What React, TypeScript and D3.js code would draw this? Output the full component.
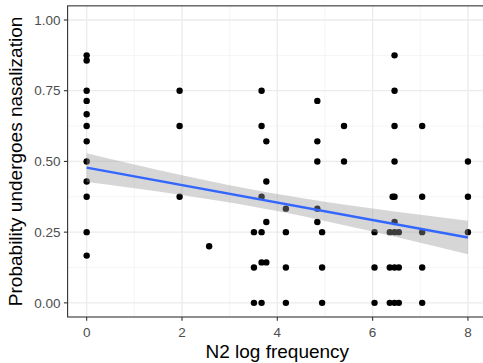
import React from "react";
import * as d3 from "d3";

// N2 log frequency of each item
const freq: number[] = [
  0, 0, 0, 0, 0, 0, 0, 0, 0, 0, 0, 0,
  1.95, 1.95, 1.95,
  2.57,
  3.51, 3.51, 3.51,
  3.67, 3.67, 3.67, 3.67, 3.67, 3.67,
  3.77, 3.77, 3.77, 3.77,
  4.18, 4.18, 4.18, 4.18,
  4.84, 4.84, 4.84, 4.84, 4.84,
  4.94, 4.94, 4.94,
  5.4, 5.4,
  6.04, 6.04, 6.04,
  6.36, 6.36, 6.36,
  6.42,
  6.46, 6.46, 6.46, 6.46, 6.46, 6.46, 6.46, 6.46, 6.46,
  6.55, 6.55, 6.55,
  7.04, 7.04, 7.04, 7.04, 7.04,
  8.0, 8.0, 8.0,
];
// Probability the item undergoes nasalization
const prob: number[] = [
  0.875, 0.857, 0.75, 0.714, 0.667, 0.625, 0.571, 0.5, 0.429, 0.375, 0.25, 0.167,
  0.75, 0.625, 0.375,
  0.2,
  0.25, 0.125, 0,
  0.75, 0.625, 0.375, 0.25, 0.143, 0,
  0.571, 0.429, 0.286, 0.143,
  0.333, 0.25, 0.125, 0,
  0.714, 0.571, 0.5, 0.333, 0.286,
  0.25, 0.125, 0,
  0.625, 0.5,
  0.25, 0.125, 0,
  0.25, 0.125, 0,
  0.375,
  0.875, 0.75, 0.625, 0.5, 0.375, 0.286, 0.25, 0.125, 0,
  0.25, 0.125, 0,
  0.625, 0.375, 0.25, 0.125, 0,
  0.5, 0.375, 0.25,
];

// fitted linear trend
const fitX = [0, 8];
const fitY = [0.478, 0.231];
// 95% confidence band
const bandX = [0, 1, 2, 3, 3.56, 4, 5, 6, 7, 8];
const bandLo = [0.4275, 0.4053, 0.3815, 0.3549, 0.3383, 0.3243, 0.2895, 0.2519, 0.2125, 0.172];
const bandHi = [0.5285, 0.4889, 0.4511, 0.4159, 0.3979, 0.3847, 0.3577, 0.3337, 0.3113, 0.29];

const xTicks = [0, 2, 4, 6, 8];
const xMinor = [1, 3, 5, 7];
const yTicks = [0, 0.25, 0.5, 0.75, 1];
const yMinor = [0.125, 0.375, 0.625, 0.875];
const xTitle = "N2 log frequency";
const yTitle = "Probability undergoes nasalization";

const W = 483;
const H = 363;
const left = 67.6;
const right = 487;
const top = 5.85;
const bottom = 317;

export default function App() {
  const x = d3.scaleLinear().domain([-0.4, 8.4]).range([left, right]);
  const y = d3.scaleLinear().domain([-0.05, 1.05]).range([bottom, top]);

  const band = bandX.map((g, i) => ({ g, lo: bandLo[i], hi: bandHi[i] }));
  const fit = fitX.map((g, i) => ({ g, v: fitY[i] }));
  const area = d3
    .area<any>()
    .curve(d3.curveMonotoneX)
    .x((d) => x(d.g))
    .y0((d) => y(d.lo))
    .y1((d) => y(d.hi));
  const line = d3
    .line<any>()
    .x((d) => x(d.g))
    .y((d) => y(d.v));

  const font = "'Liberation Sans', Arial, sans-serif";

  return (
    <svg
      width={W}
      height={H}
      style={{ position: "absolute", left: 0, top: 0, background: "#fff" }}
    >
      <defs>
        <clipPath id="panel">
          <rect x={left} y={top} width={right - left} height={bottom - top} />
        </clipPath>
      </defs>
      <rect x={left} y={top} width={right - left} height={bottom - top} fill="#fff" />
      <g clipPath="url(#panel)">
        {xMinor.map((t) => (
          <line key={"xm" + t} x1={x(t)} x2={x(t)} y1={top} y2={bottom} stroke="#f2f2f2" strokeWidth={0.8} />
        ))}
        {yMinor.map((t) => (
          <line key={"ym" + t} y1={y(t)} y2={y(t)} x1={left} x2={right} stroke="#f2f2f2" strokeWidth={0.8} />
        ))}
        {xTicks.map((t) => (
          <line key={"xg" + t} x1={x(t)} x2={x(t)} y1={top} y2={bottom} stroke="#ebebeb" strokeWidth={1.3} />
        ))}
        {yTicks.map((t) => (
          <line key={"yg" + t} y1={y(t)} y2={y(t)} x1={left} x2={right} stroke="#ebebeb" strokeWidth={1.3} />
        ))}
        {freq.map((f, i) => (
          <circle key={"p" + i} cx={x(f)} cy={y(prob[i])} r={3.2} fill="#000" />
        ))}
        <path d={area(band) || ""} fill="#999999" fillOpacity={0.4} />
        <path d={line(fit) || ""} fill="none" stroke="#3366FF" strokeWidth={2.4} />
      </g>
      <rect x={left} y={top} width={right - left} height={bottom - top} fill="none" stroke="#333333" strokeWidth={1.1} />
      {xTicks.map((t) => (
        <g key={"xt" + t}>
          <line x1={x(t)} x2={x(t)} y1={bottom} y2={bottom + 3.7} stroke="#333333" strokeWidth={1.1} />
          <text x={x(t)} y={337} textAnchor="middle" fontFamily={font} fontSize={13.5} fill="#4d4d4d">
            {d3.format("d")(t)}
          </text>
        </g>
      ))}
      {yTicks.map((t) => (
        <g key={"yt" + t}>
          <line x1={left - 3.7} x2={left} y1={y(t)} y2={y(t)} stroke="#333333" strokeWidth={1.1} />
          <text x={left - 7} y={y(t)} dy="0.35em" textAnchor="end" fontFamily={font} fontSize={13.5} fill="#4d4d4d">
            {d3.format(".2f")(t)}
          </text>
        </g>
      ))}
      <text x={(left + right) / 2} y={357.5} textAnchor="middle" fontFamily={font} fontSize={19} fill="#000">
        {xTitle}
      </text>
      <text
        transform={`translate(22,${(top + bottom) / 2}) rotate(-90)`}
        textAnchor="middle"
        fontFamily={font}
        fontSize={19}
        fill="#000"
      >
        {yTitle}
      </text>
    </svg>
  );
}
